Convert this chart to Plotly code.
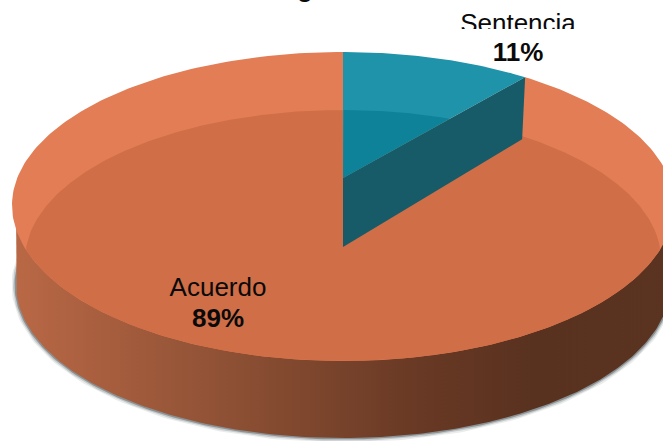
import numpy as np
import plotly.graph_objects as go

# data
labels = ['Acuerdo', 'Sentencia']
values = [89, 11]
title_visible = 'g'  # only the tail of the title's g is left in the crop

# colours
orange_rim = '#e27d56'
orange_face = '#d06e47'
teal_rim = '#1e93a9'
teal_face = '#0e8299'
teal_wall = '#175a68'
side_colors = [[0, '#b96845'], [0.33, '#8d5034'], [0.6, '#6a3a25'], [0.8, '#58311f'], [1, '#5a3321']]

# pie geometry, in pixels of the 663x441 page
cx = 343
rx = 331
rim_cy = 205
rim_ry_top = 153
rim_ry_bottom = 156
hub_y = 178       # point where the slices meet
hub_drop = 69     # height of the wall at the hub
sweep_factor = 0.843  # picture draws the slices narrower than true angle


def rim_point(t):
    ry = np.where(np.cos(t) > 0, rim_ry_top, rim_ry_bottom)
    return cx + rx * np.sin(t), rim_cy - ry * np.cos(t)


sweep = values[1] / sum(values) * 2 * np.pi * sweep_factor
fig = go.Figure()


def add_fill(x, y, color=None, **kw):
    fig.add_trace(go.Scatter(x=x, y=y, mode='lines', fill='toself', fillcolor=color,
                             line=dict(width=0), hoverinfo='skip', **kw))


# soft shadow and the dark side of the disc
t = np.linspace(-np.pi / 2 - 0.2, np.pi / 2 + 0.2, 200)
for w, a in [(9, 0.1), (6, 0.2), (3, 0.4)]:
    fig.add_trace(go.Scatter(x=cx + 327 * np.sin(t), y=285 + 153 * np.cos(t), mode='lines',
                             line=dict(color='rgba(50,65,70,%s)' % a, width=w), hoverinfo='skip'))
t = np.linspace(-np.pi / 2, np.pi / 2, 200)
add_fill(np.r_[cx - 327, cx + 327 * np.sin(t), cx + 327],
         np.r_[rim_cy, 285 + 153 * np.cos(t), rim_cy],
         fillgradient=dict(type='horizontal', colorscale=side_colors))

# Acuerdo slice, lighter rim
t = np.linspace(sweep, 2 * np.pi, 300)
xr, yr = rim_point(t)
add_fill(np.r_[cx, xr], np.r_[hub_y, yr], orange_rim)

# inner darker face: arc above, rim below
face_cy, face_ry, face_rx = 260, 150, 318
xs = np.linspace(cx - face_rx, cx + face_rx, 500)
upper = face_cy - face_ry * np.sqrt(1 - ((xs - cx) / face_rx) ** 2)
lower = rim_cy + rim_ry_bottom * np.sqrt(np.clip(1 - ((xs - cx) / rx) ** 2, 0, 1))
keep = upper < lower
add_fill(np.r_[xs[keep], xs[keep][::-1]], np.r_[upper[keep], lower[keep][::-1]], orange_face)

# Sentencia slice: wall first, then top
end_x, end_y = rim_point(np.array(sweep))
add_fill([cx, end_x, end_x - 3, cx], [hub_y, end_y, end_y + 62, hub_y + hub_drop], teal_wall)
t = np.linspace(0, sweep, 80)
xr, yr = rim_point(t)
add_fill(np.r_[cx, xr], np.r_[hub_y, yr], teal_rim)

# darker part of the teal top, where the inner face shows through
edge = hub_y + (end_y - hub_y) * (xs - cx) / (end_x - cx)
part = (xs >= cx) & (upper < edge)
add_fill(np.r_[cx, xs[part]], np.r_[hub_y, upper[part]], teal_face)

# labels, as text traces so the white strip can cut the Sentencia label
text_font = dict(family='Liberation Sans, Arial, sans-serif', size=26, color='#0a0a0a')
fig.add_trace(go.Scatter(x=[218, 218], y=[289, 320], mode='text',
                         text=[labels[0], '<b>%d%%</b>' % values[0]],
                         textfont=text_font, hoverinfo='skip'))
fig.add_trace(go.Scatter(x=[518, 518], y=[25, 54], mode='text',
                         text=[labels[1], '<b>%d%%</b>' % values[1]],
                         textfont=text_font, hoverinfo='skip'))
fig.add_trace(go.Scatter(x=[305], y=[-10], mode='text', text=['<b>' + title_visible + '</b>'],
                         textfont=text_font, hoverinfo='skip'))

fig.update_layout(
    width=663, height=441,
    margin=dict(l=0, r=0, t=0, b=0),
    showlegend=False,
    paper_bgcolor='white',
    plot_bgcolor='white',
    xaxis=dict(range=[0, 663], visible=False, fixedrange=True),
    yaxis=dict(range=[441, 0], visible=False, fixedrange=True),
    # scan cuts off the foot of the Sentencia label
    shapes=[dict(type='rect', x0=440, x1=600, y0=29, y1=41, fillcolor='white',
                 line=dict(width=0), layer='above')],
)
fig.write_html('out.html', config=dict(displayModeBar=False),
               post_script="document.body.style.margin='0';document.body.style.overflow='hidden';")
